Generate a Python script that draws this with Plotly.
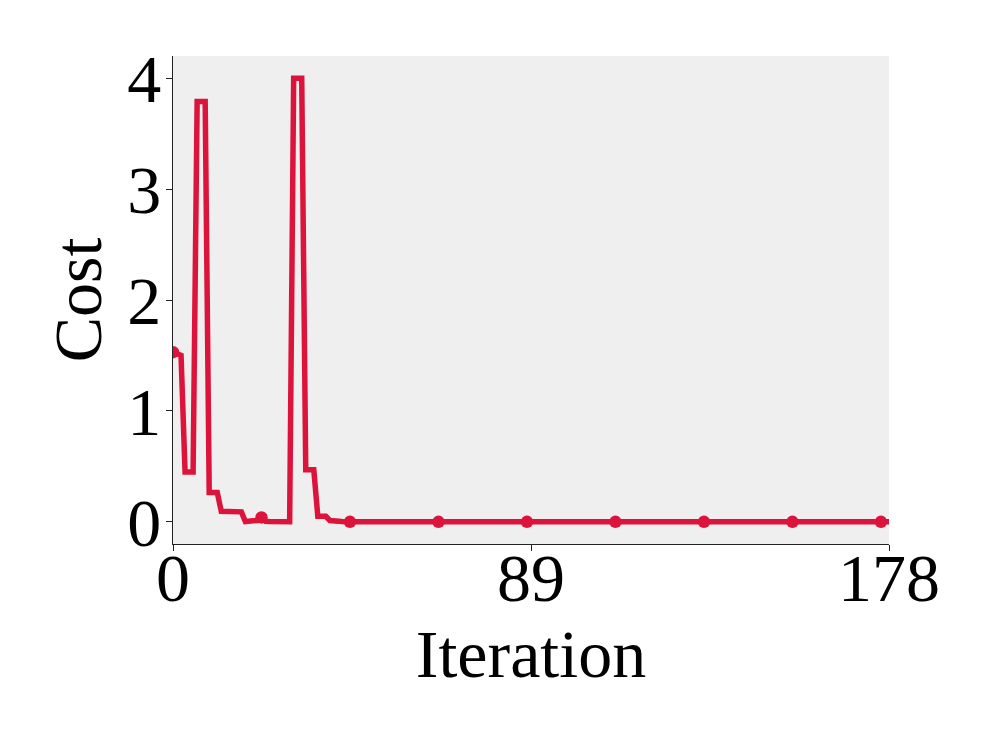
import plotly.graph_objects as go

# Cost per iteration
cost_head = [
    1.53, 1.51, 1.50, 0.45, 0.45, 0.45, 3.79, 3.79, 3.79, 0.265,
    0.265, 0.265, 0.095, 0.093, 0.092, 0.091, 0.090, 0.090, 0.003, 0.003,
    0.003, 0.012, 0.040, 0.005, 0.003, 0.002, 0.002, 0.002, 0.001, 0.001,
    4.00, 4.00, 4.00, 0.47, 0.47, 0.47, 0.05, 0.05, 0.05, 0.012,
    0.006, 0.004, 0.002, 0.001, 0.0,
]
cost_tail = [
    0.0, 0.0, 0.0, 0.0, 0.0, 0.0, 0.0, 0.0, 0.0, 0.0,
    0.0, 0.0, 0.0, 0.0, 0.0, 0.0, 0.0, 0.0, 0.0, 0.0,
    0.0, 0.0, 0.0, 0.0, 0.0, 0.0, 0.0, 0.0, 0.0, 0.0,
    0.0, 0.0, 0.0, 0.0, 0.0, 0.0, 0.0, 0.0, 0.0, 0.0,
    0.0, 0.0, 0.0, 0.0, 0.0, 0.0, 0.0, 0.0, 0.0, 0.0,
    0.0, 0.0, 0.0, 0.0, 0.0, 0.0, 0.0, 0.0, 0.0, 0.0,
    0.0, 0.0, 0.0, 0.0, 0.0, 0.0, 0.0, 0.0, 0.0, 0.0,
    0.0, 0.0, 0.0, 0.0, 0.0, 0.0, 0.0, 0.0, 0.0, 0.0,
    0.0, 0.0, 0.0, 0.0, 0.0, 0.0, 0.0, 0.0, 0.0, 0.0,
    0.0, 0.0, 0.0, 0.0, 0.0, 0.0, 0.0, 0.0, 0.0, 0.0,
    0.0, 0.0, 0.0, 0.0, 0.0, 0.0, 0.0, 0.0, 0.0, 0.0,
    0.0, 0.0, 0.0, 0.0, 0.0, 0.0, 0.0, 0.0, 0.0, 0.0,
    0.0, 0.0, 0.0, 0.0, 0.0, 0.0, 0.0, 0.0, 0.0, 0.0,
    0.0, 0.0, 0.0, 0.0,
]
cost = cost_head + cost_tail
iterations = list(range(len(cost)))

x_tick_vals = [0, 89, 178]
x_tick_text = ["0", "89", "178"]
y_tick_vals = [0, 1, 2, 3, 4]
y_tick_text = ["0", "1", "2", "3", "4"]

marker_every = 22
line_color = "#DC143C"
font_family = "Liberation Serif, Times New Roman, serif"

fig = go.Figure()
fig.add_trace(go.Scatter(
    x=iterations, y=cost, mode="lines",
    line=dict(color=line_color, width=5.5),
    showlegend=False, hoverinfo="skip",
))
fig.add_trace(go.Scatter(
    x=iterations[::marker_every], y=cost[::marker_every], mode="markers",
    marker=dict(color=line_color, size=12.5),
    showlegend=False,
))

fig.update_layout(
    width=997, height=747,
    margin=dict(l=165, r=116, t=48, b=211),
    paper_bgcolor="white",
    plot_bgcolor="#efefef",
    font=dict(family=font_family, size=68, color="black"),
)
fig.update_xaxes(
    range=[0, 178],
    tickmode="array", tickvals=x_tick_vals, ticktext=x_tick_text,
    showgrid=False, zeroline=False,
    showline=True, linecolor="#222222", linewidth=1.3,
    ticks="outside", ticklen=6, tickwidth=1.3, tickcolor="#222222",
    tickfont=dict(size=68, family=font_family),
    ticklabelstandoff=-32,
    title=dict(text="Iteration", font=dict(size=68, family=font_family), standoff=8),
)
fig.update_yaxes(
    range=[-0.2, 4.2],
    tickmode="array", tickvals=y_tick_vals, ticktext=y_tick_text,
    showgrid=False, zeroline=False,
    showline=True, linecolor="#222222", linewidth=1.3,
    ticks="outside", ticklen=6, tickwidth=1.3, tickcolor="#222222",
    tickfont=dict(size=68, family=font_family),
    ticklabelstandoff=-9,
    title=dict(text="Cost", font=dict(size=68, family=font_family), standoff=3),
)

fig.write_html("out.html")
